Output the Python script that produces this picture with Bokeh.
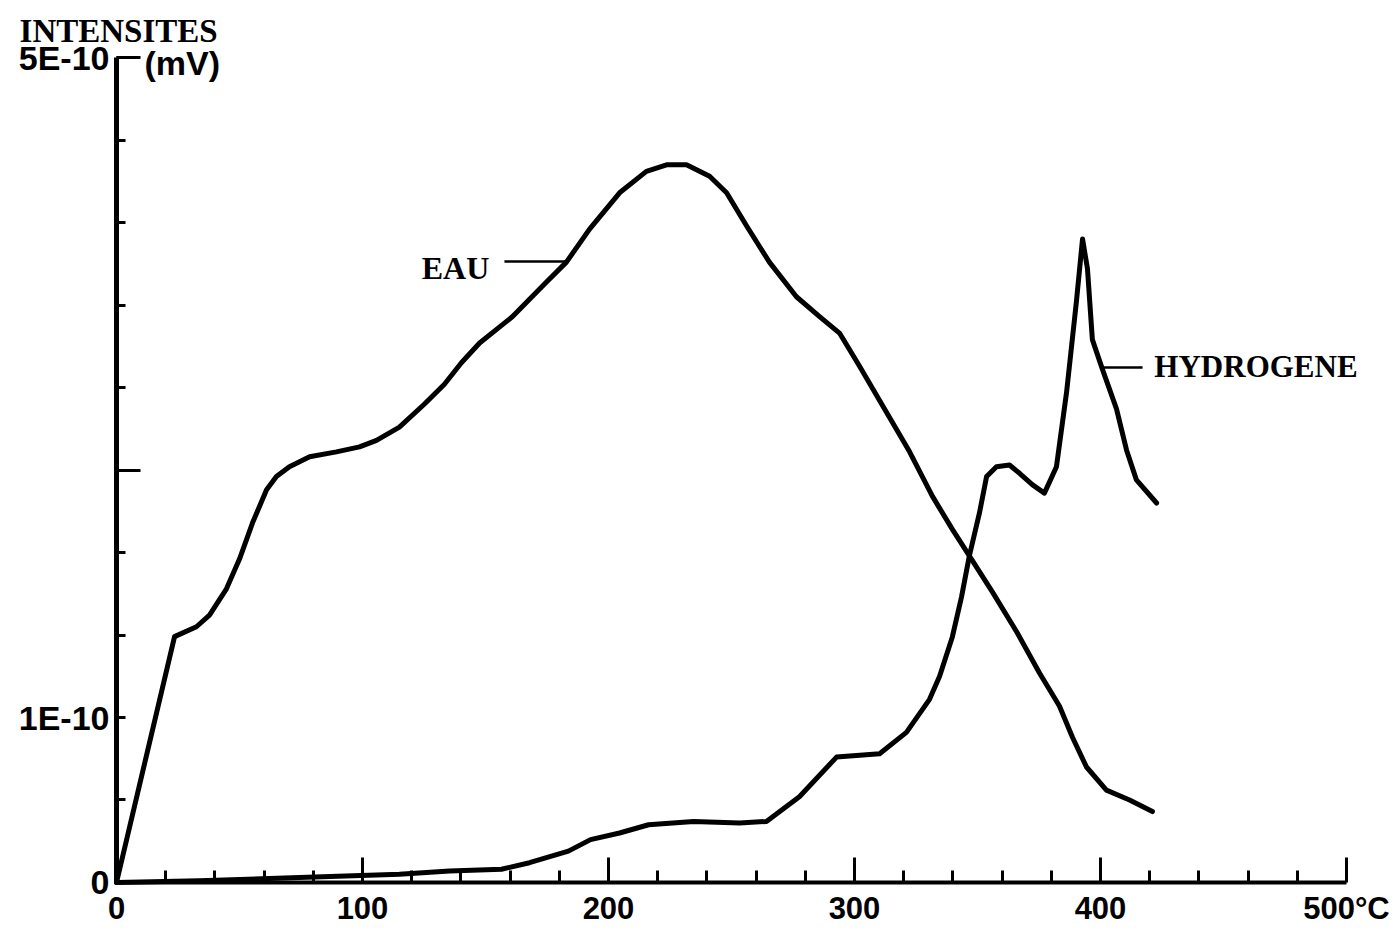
from bokeh.plotting import figure
from bokeh.models import FixedTicker, LinearAxis, Label, Range1d
from bokeh.embed import file_html
from bokeh.resources import INLINE

# ---- data (temperature in °C, intensity in units of 1E-10 mV) ----
temp_eau = [0, 23.6, 32.5, 37.8, 44.7, 50.0, 55.3, 61.0, 65.0, 70.3, 78.5, 89.4,
            98.8, 105.7, 115.0, 125.2, 133.3, 140.2, 147.6, 161.0, 174.8, 182.9,
            192.3, 204.5, 215.4, 223.6, 231.7, 241.1, 248.0, 256.1, 265.4, 276.4,
            285.8, 293.9, 302.0, 313.0, 322.4, 331.7, 339.8, 346.7, 356.1, 365.9,
            375.2, 383.3, 388.6, 394.3, 402.4, 411.8, 421.1]
eau = [0, 1.49, 1.55, 1.62, 1.78, 1.96, 2.18, 2.38, 2.46, 2.52, 2.58, 2.61,
       2.64, 2.68, 2.76, 2.90, 3.02, 3.15, 3.27, 3.43, 3.64, 3.76,
       3.96, 4.18, 4.31, 4.35, 4.35, 4.28, 4.18, 3.98, 3.76, 3.55,
       3.43, 3.33, 3.13, 2.85, 2.61, 2.34, 2.14, 1.98, 1.76, 1.52,
       1.27, 1.07, 0.88, 0.70, 0.56, 0.50, 0.43]

temp_h2 = [0, 33.7, 74.4, 115.0, 135.4, 156.5, 167.9, 183.7, 192.7, 204.5, 216.3,
           234.6, 253.3, 264.2, 277.6, 292.7, 300.8, 310.2, 321.1, 330.5, 334.6,
           339.8, 343.5, 346.7, 350.8, 353.7, 357.7, 363.0, 367.1, 372.4, 377.2,
           382.1, 386.2, 390.2, 392.7, 394.7, 396.7, 400.8, 406.5, 410.6, 414.6,
           422.8]
h2 = [0, 0.01, 0.03, 0.05, 0.07, 0.08, 0.12, 0.19, 0.26, 0.30, 0.35,
      0.37, 0.36, 0.37, 0.52, 0.76, 0.77, 0.78, 0.91, 1.11, 1.25,
      1.49, 1.73, 1.98, 2.24, 2.46, 2.52, 2.53, 2.48, 2.41, 2.36,
      2.52, 2.97, 3.52, 3.90, 3.72, 3.29, 3.11, 2.87, 2.62, 2.44,
      2.30]

x_major = [0, 100, 200, 300, 400, 500]
x_minor = [20, 40, 60, 80, 120, 140, 160, 180, 220, 240, 260, 280,
           320, 340, 360, 380, 420, 440, 460, 480]
x_labels = {0: "0", 100: "100", 200: "200", 300: "300", 400: "400", 500: "500°C"}

y_major = [0, 1, 5]
y_minor = [0.5, 1.5, 2, 2.5, 3, 3.5, 4, 4.5]
y_long = [2.5, 5]
y_labels = {0: "0", 1: "1E-10", 5: "5E-10"}

SANS = "Liberation Sans"
SERIF = "Liberation Serif"

p = figure(frame_width=1392, frame_height=928,
           x_range=Range1d(-47.154, 518.70), y_range=Range1d(-0.2788, 5.3455),
           x_axis_location=None, y_axis_location=None,
           output_backend="svg", toolbar_location=None, min_border=0,
           background_fill_color="white", border_fill_color="white",
           outline_line_color=None)
p.grid.visible = False

# x axis (at y = 0)
xa = LinearAxis(fixed_location=0, bounds=(0, 500),
                ticker=FixedTicker(ticks=x_major, minor_ticks=x_minor),
                major_label_overrides=x_labels,
                axis_line_width=4, axis_line_color="black",
                major_tick_in=25, major_tick_out=0, minor_tick_in=12, minor_tick_out=0,
                major_tick_line_width=3, minor_tick_line_width=3,
                major_label_text_font=SANS, major_label_text_font_style="bold",
                major_label_text_font_size="31px", major_label_text_color="black",
                major_label_standoff=9)
p.add_layout(xa, "below")

# y axis (at x = 0)
ya = LinearAxis(fixed_location=0, bounds=(0, 5),
                ticker=FixedTicker(ticks=y_major, minor_ticks=y_minor),
                major_label_overrides=y_labels,
                axis_line_width=5, axis_line_color="black",
                major_tick_in=9, major_tick_out=0, minor_tick_in=9, minor_tick_out=0,
                major_tick_line_width=3, minor_tick_line_width=3,
                major_label_text_font=SANS, major_label_text_font_style="bold",
                major_label_text_font_size="34px", major_label_text_color="black",
                major_label_standoff=7)
p.add_layout(ya, "left")

# long ticks on the y axis (2.5E-10 and the top corner)
ya2 = LinearAxis(fixed_location=0, bounds=(0, 5), ticker=FixedTicker(ticks=y_long),
                 axis_line_color=None, major_tick_in=24, major_tick_out=0,
                 major_tick_line_width=3, minor_tick_line_color=None,
                 major_label_text_color=None)
p.add_layout(ya2, "left")

# curves
p.line(temp_eau, eau, line_width=5, line_color="black", line_join="round", line_cap="round")
p.line(temp_h2, h2, line_width=5, line_color="black", line_join="round", line_cap="round")

# labels and leader lines
p.segment(x0=[157.7], y0=[3.764], x1=[182.9], y1=[3.764], line_width=2.5, line_color="black")
p.segment(x0=[400.8], y0=[3.121], x1=[417.1], y1=[3.121], line_width=2.5, line_color="black")

p.add_layout(Label(x=137.8, y=3.727, text="EAU", text_font=SERIF, text_font_style="bold",
                   text_font_size="32px", text_align="center", text_baseline="middle",
                   text_color="black"))
p.add_layout(Label(x=421.9, y=3.127, text="HYDROGENE", text_font=SERIF, text_font_style="bold",
                   text_font_size="31px", text_align="left", text_baseline="middle",
                   text_color="black"))
p.add_layout(Label(x=-39.4, y=5.161, text="INTENSITES", text_font=SERIF, text_font_style="bold",
                   text_font_size="33px", text_align="left", text_baseline="middle",
                   text_color="black"))
p.add_layout(Label(x=11.4, y=4.964, text="(mV)", text_font=SANS, text_font_style="bold",
                   text_font_size="34px", text_align="left", text_baseline="middle",
                   text_color="black"))

open("out.html", "w").write(file_html(p, INLINE))
